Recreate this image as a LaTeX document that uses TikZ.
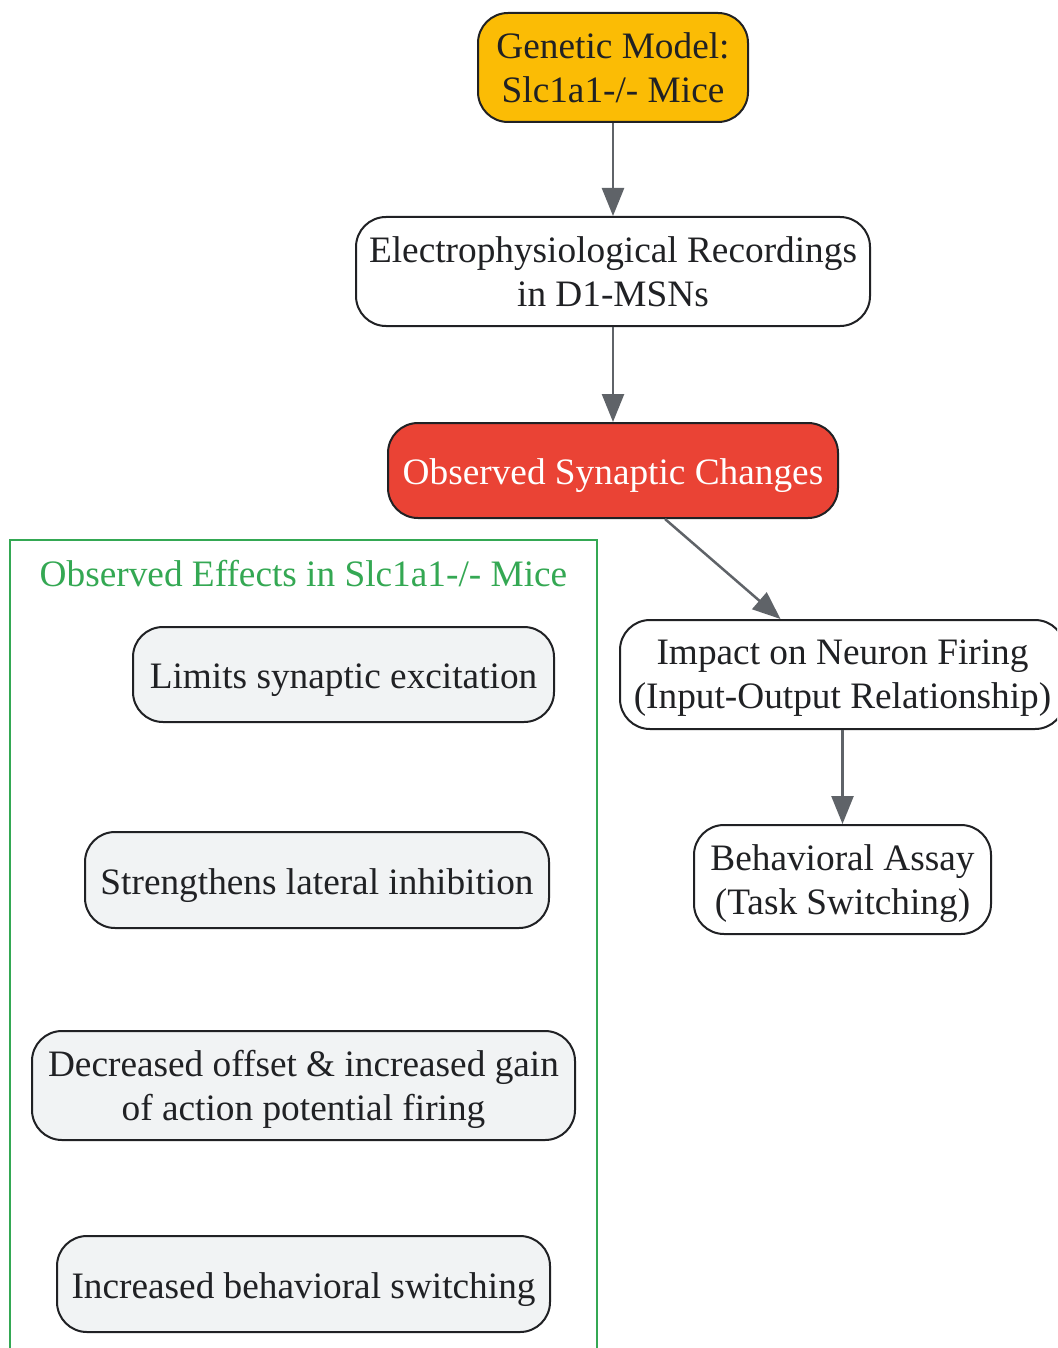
\documentclass[tikz,border=0pt]{standalone}
\usepackage{fontspec}
\setmainfont{Liberation Serif}
\usetikzlibrary{arrows.meta}
\definecolor{txt}{HTML}{202124}
\definecolor{edge}{HTML}{5F6368}
\definecolor{gold}{HTML}{FBBC05}
\definecolor{redc}{HTML}{EA4335}
\definecolor{greyc}{HTML}{F1F3F4}
\definecolor{greenc}{HTML}{34A853}
\tikzset{
  box/.style={draw=txt, line width=2pt, rounded corners=30pt, align=center,
    text=txt, font=\fontsize{37.3}{44}\selectfont, inner sep=0pt},
  oneline/.style={text height=28pt, text depth=0pt},
  conn/.style={draw=edge, line width=2.5pt, -{Triangle[length=28pt,width=22pt]}},
}
\begin{document}
\begin{tikzpicture}[x=1pt,y=-1pt]
\useasboundingbox (0,0) rectangle (1057,1348);
\clip (0,0) rectangle (1057,1348);
\fill[white] (0,0) rectangle (1057,1348);
% cluster
\draw[greenc, line width=2pt] (10,1380) -- (10,540) -- (597,540) -- (597,1380);
\node[text=greenc, font=\fontsize{37.3}{44}\selectfont, anchor=base] (ctitle) at (303.5,586) {Observed Effects in Slc1a1-/- Mice};
% main chain
\node[box, fill=gold, minimum width=270pt, minimum height=109pt] (gen) at (613,67.5) {Genetic Model:\\\smash{Slc1a1-/- Mice}};
\node[box, fill=white, minimum width=514pt, minimum height=109pt] (ele) at (613,271.5) {Electrophysiological Recordings\\\smash{in D1-MSNs}};
\node[box, oneline, fill=redc, text=white, minimum width=450pt, minimum height=95pt] (obs) at (613,470.5) {Observed Synaptic Changes};
\node[box, fill=white, minimum width=445pt, minimum height=109pt] (imp) at (842.5,674.5) {Impact on Neuron Firing\\\smash{(Input-Output Relationship)}};
\node[box, fill=white, minimum width=297pt, minimum height=109pt] (beh) at (842.5,879.5) {Behavioral Assay\\\smash{(Task Switching)}};
% effects
\node[box, oneline, fill=greyc, minimum width=421pt, minimum height=95pt] (lim) at (343.5,674.5) {Limits synaptic excitation};
\node[box, oneline, fill=greyc, minimum width=464pt, minimum height=96pt] (str) at (317,880) {Strengthens lateral inhibition};
\node[box, fill=greyc, minimum width=543pt, minimum height=109pt] (dec) at (303.5,1085.5) {Decreased offset \& increased gain\\\smash{of action potential firing}};
\node[box, oneline, fill=greyc, minimum width=493pt, minimum height=96pt] (inc) at (303.5,1284) {Increased behavioral switching};
% connectors
\draw[conn] (gen.south) -- (ele.north);
\draw[conn] (ele.south) -- (obs.north);
\draw[conn] ([xshift=52pt]obs.south) -- ([xshift=-62pt]imp.north);
\draw[conn] (imp.south) -- (beh.north);
\end{tikzpicture}
\end{document}
